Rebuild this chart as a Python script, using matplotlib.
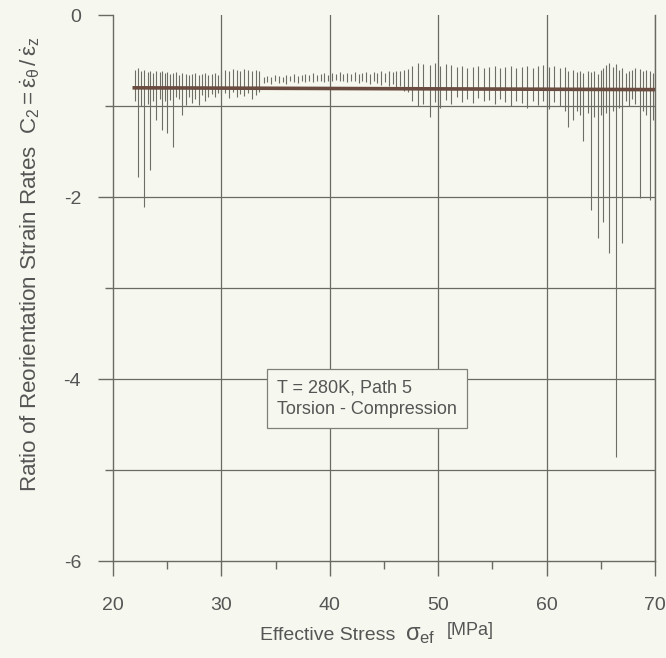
import matplotlib
matplotlib.use("Agg")
import matplotlib.pyplot as plt
import numpy as np

# ---- data ----
x_a = [22.0, 22.3, 22.6, 22.9, 23.2, 23.4, 23.7, 24.0, 24.3, 24.5, 24.8, 25.0, 25.3, 25.5,
       25.8, 26.1, 26.4, 26.7, 27.0, 27.3, 27.6, 27.9, 28.2, 28.5, 28.8, 29.1, 29.4, 29.7]
top_a = [-0.60, -0.58, -0.62, -0.60, -0.63, -0.61, -0.64, -0.62, -0.63, -0.62, -0.64, -0.63, -0.65, -0.64,
         -0.63, -0.66, -0.64, -0.65, -0.66, -0.65, -0.64, -0.66, -0.65, -0.64, -0.66, -0.65, -0.64, -0.66]
bot_a = [-0.95, -1.78, -1.00, -2.11, -0.98, -1.70, -0.95, -1.15, -0.92, -1.26, -0.95, -1.30, -0.93, -1.45,
         -0.90, -0.92, -1.10, -0.99, -0.90, -0.97, -0.92, -0.99, -0.88, -0.95, -0.90, -0.87, -0.90, -0.86]

x_b = [30.0, 30.35, 30.7, 31.05, 31.4, 31.75, 32.1, 32.45, 32.8, 33.15, 33.5]
top_b = [-0.62, -0.60, -0.61, -0.59, -0.60, -0.61, -0.59, -0.60, -0.62, -0.60, -0.62]
bot_b = [-0.88, -0.86, -0.91, -0.85, -0.90, -0.87, -0.89, -0.86, -0.92, -0.88, -0.85]

x_c = [33.9, 34.25, 34.6, 34.95, 35.3, 35.65, 36.0, 36.35, 36.7, 37.05, 37.4, 37.75, 38.1, 38.45,
       38.8, 39.15, 39.5, 39.85, 40.2, 40.55, 40.9, 41.25, 41.6, 41.95, 42.3, 42.65, 43.0, 43.35,
       43.7, 44.05, 44.4, 44.75, 45.1, 45.45, 45.8, 46.15, 46.5, 46.85, 47.2]
top_c = [-0.68, -0.67, -0.68, -0.66, -0.67, -0.68, -0.66, -0.67, -0.65, -0.67, -0.66, -0.65, -0.66, -0.64,
         -0.66, -0.65, -0.64, -0.66, -0.64, -0.65, -0.63, -0.65, -0.64, -0.65, -0.63, -0.65, -0.64, -0.63,
         -0.65, -0.63, -0.64, -0.62, -0.64, -0.62, -0.63, -0.61, -0.62, -0.60, -0.59]
bot_c = [-0.75, -0.74, -0.76, -0.73, -0.75, -0.74, -0.76, -0.73, -0.74, -0.75, -0.73, -0.74, -0.72, -0.74,
         -0.73, -0.72, -0.74, -0.72, -0.73, -0.71, -0.73, -0.72, -0.74, -0.72, -0.73, -0.75, -0.72, -0.74,
         -0.76, -0.73, -0.75, -0.77, -0.74, -0.78, -0.76, -0.80, -0.78, -0.83, -0.85]

x_d = [47.6, 48.1, 48.6, 49.2, 49.7, 50.2, 50.7, 51.2, 51.7, 52.2, 52.7, 53.2, 53.7, 54.2, 54.7,
       55.2, 55.7, 56.2, 56.7, 57.2, 57.7, 58.2, 58.7, 59.2, 59.7, 60.2, 60.7, 61.2, 61.7]
top_d = [-0.56, -0.53, -0.54, -0.55, -0.53, -0.56, -0.54, -0.55, -0.57, -0.56, -0.58, -0.57, -0.56, -0.58, -0.57,
         -0.56, -0.58, -0.57, -0.56, -0.58, -0.57, -0.56, -0.58, -0.56, -0.55, -0.57, -0.56, -0.58, -0.57]
bot_d = [-0.95, -1.00, -0.98, -1.12, -0.96, -1.02, -0.93, -0.98, -0.90, -0.96, -0.92, -0.97, -0.91, -0.95, -0.93,
         -0.98, -0.92, -0.96, -1.00, -0.94, -0.97, -1.02, -0.95, -0.99, -0.94, -1.03, -0.96, -1.00, -1.05]

x_e = [62.0, 62.4, 62.8, 63.1, 63.4, 63.8, 64.1, 64.4, 64.7, 65.0, 65.2, 65.5, 65.8, 66.1, 66.4, 66.7,
       67.0, 67.3, 67.6, 67.9, 68.2, 68.6, 68.9, 69.2, 69.5, 69.8]
top_e = [-0.62, -0.60, -0.63, -0.61, -0.64, -0.62, -0.63, -0.61, -0.65, -0.60, -0.58, -0.55, -0.53, -0.57,
         -0.54, -0.60, -0.58, -0.64, -0.62, -0.60, -0.58, -0.59, -0.62, -0.60, -0.61, -0.64]
bot_e = [-1.23, -1.15, -1.05, -1.10, -1.39, -1.08, -2.14, -1.12, -2.45, -1.10, -2.27, -1.08, -2.62, -1.05,
         -4.86, -1.02, -2.51, -0.95, -1.00, -0.92, -0.98, -2.01, -1.05, -1.10, -2.03, -1.15]

fit_x = [21.8, 70.0]
fit_y = [-0.80, -0.82]

x_ticks = [20, 30, 40, 50, 60, 70]
y_ticks = [0, -2, -4, -6]
annot = "T = 280K, Path 5\nTorsion - Compression"

xs = np.array(x_a + x_b + x_c + x_d + x_e)
tops = np.array(top_a + top_b + top_c + top_d + top_e)
bots = np.array(bot_a + bot_b + bot_c + bot_d + bot_e)

plt.rcParams['font.family'] = ['Liberation Sans', 'DejaVu Sans']
plt.rcParams['mathtext.fontset'] = 'custom'
plt.rcParams['mathtext.rm'] = 'Liberation Sans'
plt.rcParams['mathtext.it'] = 'Liberation Sans'
plt.rcParams['mathtext.bf'] = 'Liberation Sans:bold'
plt.rcParams['axes.unicode_minus'] = False

bg = '#f6f7ee'
txt = '#555555'
gridc = '#6a6a62'

W, H = 666, 658
fig = plt.figure(figsize=(W/100, H/100), dpi=100, facecolor=bg)
ax = fig.add_axes([113/W, 1 - 561/H, (655-113)/W, (561-15)/H])
ax.set_facecolor(bg)

# oscillating measured ratio (vertical strokes between upper and lower extremes)
ax.vlines(xs, bots, tops, color='#6e6e64', lw=0.8, zorder=3)
# thick mean line
ax.plot(fit_x, fit_y, color='#6a4b40', lw=2.6, zorder=4, solid_capstyle='butt')

ax.set_xlim(20, 70)
ax.set_ylim(-6, 0)
ax.set_xticks(x_ticks)
ax.set_yticks(y_ticks)
ax.set_xticks([25, 35, 45, 55, 65], minor=True)
ax.set_yticks([-1, -3, -5], minor=True)
for v in [30, 40, 50, 60, 70]:
    ax.axvline(v, color=gridc, lw=0.9, zorder=1)
for v in [-1, -2, -3, -4, -5]:
    ax.axhline(v, color=gridc, lw=0.9, zorder=1)

ax.spines['top'].set_visible(False)
for s in ['left', 'bottom', 'right']:
    ax.spines[s].set_color(gridc)
    ax.spines[s].set_linewidth(1.0)

ax.tick_params(axis='both', which='major', direction='out', length=11, width=1.0,
               color=gridc, labelcolor=txt, labelsize=14)
ax.tick_params(axis='both', which='minor', direction='out', length=6, width=1.0, color=gridc)
ax.tick_params(axis='y', which='major', pad=12)
ax.tick_params(axis='x', which='major', pad=15)
ax.tick_params(right=False, top=False, which='both')

# x label pieces
base_y = 1 - 640/H
fig.canvas.draw()
r = fig.canvas.get_renderer()
t1 = fig.text(260/W, base_y, "Effective Stress", color=txt, fontsize=14, ha='left', va='baseline')
x1 = t1.get_window_extent(r).x1 + 10
t2 = fig.text(x1/W, base_y, r"$\sigma_{\mathrm{ef}}$", color=txt, fontsize=17, ha='left', va='baseline')
x2 = t2.get_window_extent(r).x1 + 11
fig.text(x2/W, base_y + 5/H, "[MPa]", color=txt, fontsize=13, ha='left', va='baseline')

# y label, fitted to span from y=492 px (bottom) to y=34 px (top)
ylab = fig.text(30/W, 1 - 492/H,
                r"Ratio of Reorientation Strain Rates  $C_2 = \dot{\varepsilon}_\theta\,/\,\dot{\varepsilon}_z$",
                color=txt, fontsize=14, rotation=90, ha='center', va='bottom')
fig.canvas.draw()
ext = ylab.get_window_extent()
ylab.set_fontsize(14 * (492 - 34) / ext.height)

ax.text((277-113)/542, (561-398.5)/546, annot, transform=ax.transAxes, fontsize=13, color=txt,
        va='center', ha='left', linespacing=1.35,
        bbox=dict(boxstyle='square,pad=0.55', facecolor=bg, edgecolor='#80807a', lw=0.9), zorder=5)

fig.savefig('out.png', dpi=100, facecolor=bg)
